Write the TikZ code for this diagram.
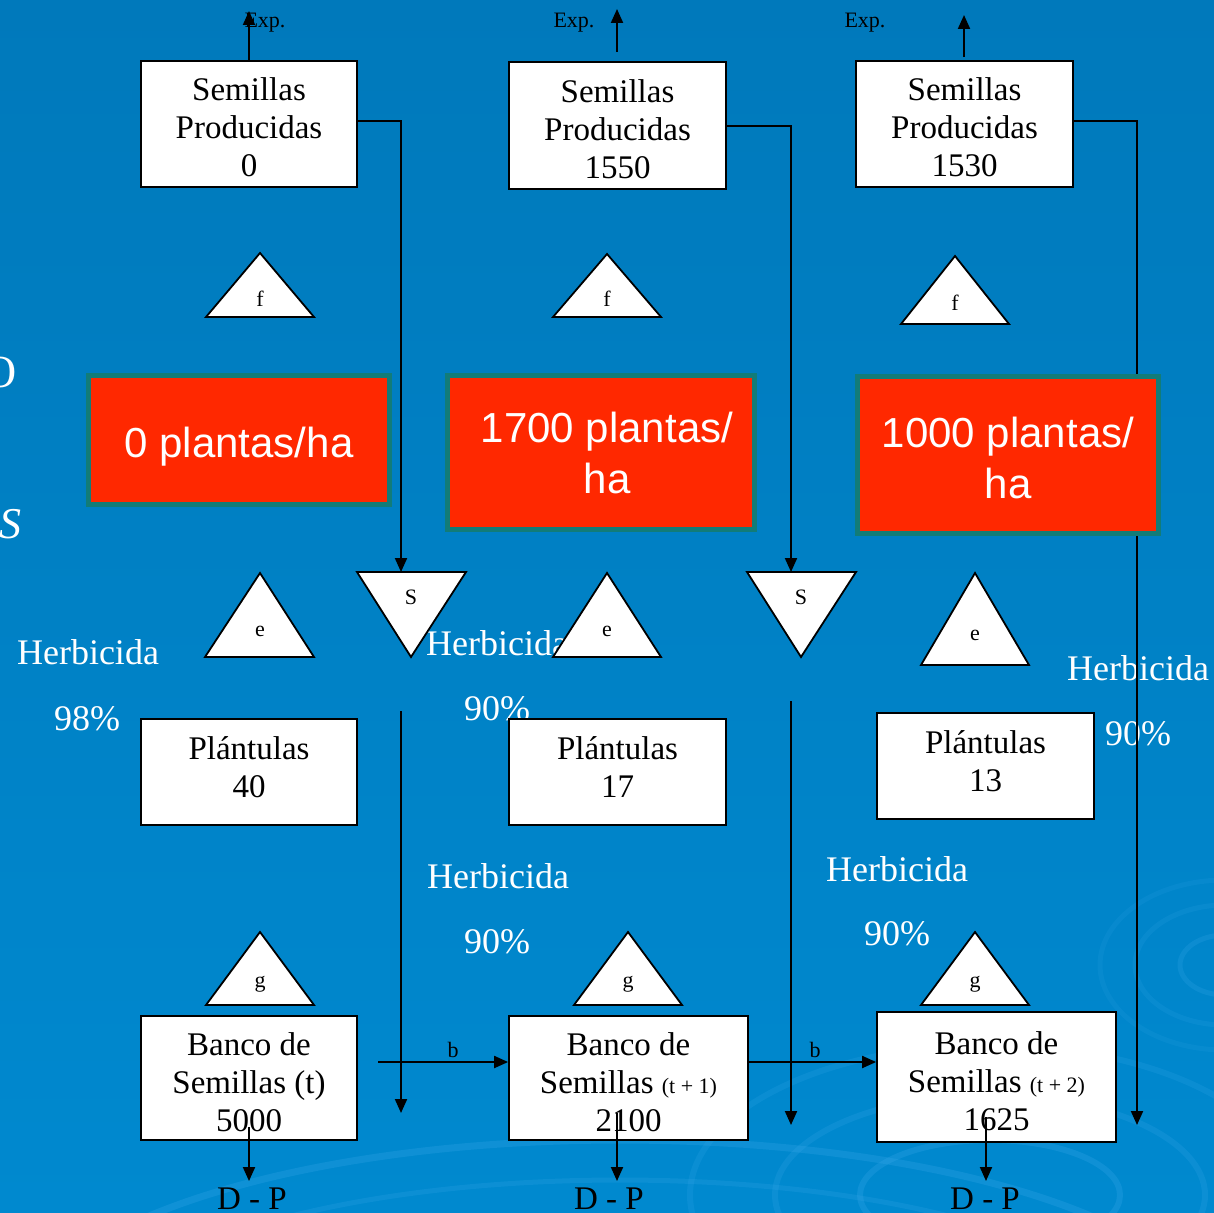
\documentclass[tikz,border=0pt]{standalone}
\usepackage{fontspec}
\setmainfont{Liberation Serif}
\newfontfamily\arialfont{Liberation Sans}
\usetikzlibrary{arrows.meta,positioning}

\definecolor{fondoA}{RGB}{0,121,187}
\definecolor{fondoB}{RGB}{0,137,207}
\definecolor{onda}{RGB}{60,170,235}
\definecolor{rojo}{RGB}{255,40,0}
\definecolor{verdeazul}{RGB}{18,124,120}

\tikzset{
  caja/.style={draw=black, fill=white, line width=1.8pt, inner sep=0pt, align=center,
    font=\rmfamily\fontsize{33}{38}\selectfont},
  tri/.style={draw=black, fill=white, line width=1.8pt, line join=miter},
  letra/.style={inner sep=0pt, font=\rmfamily\fontsize{22}{24}\selectfont},
  blanco/.style={text=white, anchor=base, inner sep=0pt, font=\rmfamily\fontsize{36}{40}\selectfont},
  expo/.style={anchor=base, inner sep=0pt, font=\rmfamily\fontsize{22}{24}\selectfont},
  dp/.style={anchor=base, inner sep=0pt, font=\rmfamily\fontsize{33}{38}\selectfont},
  plantas/.style={draw=verdeazul, fill=rojo, line width=5pt, inner sep=0pt, align=center,
    text=white, font=\arialfont\fontsize{42}{51}\selectfont},
  flecha/.style={line width=2pt, -{Triangle[length=14pt,width=12pt]}},
}
\newcommand{\chico}{\fontsize{22}{24}\selectfont}
\newcommand{\alto}[1]{\rule{0pt}{#1}}
\newcommand{\hondo}[1]{\rule[-#1]{0pt}{#1}}

\begin{document}
\begin{tikzpicture}[x=1pt, y=-1pt]
  \useasboundingbox (0,0) rectangle (1214,1212);
  \shade[top color=fondoA, bottom color=fondoB] (0,0) rectangle (1214,1212);
  % ondas del fondo
  \begin{scope}
    \clip (0,0) rectangle (1214,1212);
    \draw[onda, opacity=0.25, line width=7pt] (620,1340) ellipse (600 and 200);
    \draw[onda, opacity=0.20, line width=5pt] (620,1340) ellipse (520 and 160);
    \draw[onda, opacity=0.25, line width=6pt] (990,1195) ellipse (130 and 55);
    \draw[onda, opacity=0.20, line width=6pt] (990,1195) ellipse (215 and 100);
    \draw[onda, opacity=0.18, line width=6pt] (990,1195) ellipse (300 and 150);
    \draw[onda, opacity=0.20, line width=5pt] (1225,965) ellipse (45 and 30);
    \draw[onda, opacity=0.15, line width=5pt] (1225,965) ellipse (90 and 60);
    \draw[onda, opacity=0.12, line width=5pt] (1225,965) ellipse (125 and 85);
  \end{scope}

  % restos del titulo, cortados por el borde
  \node[blanco, font=\rmfamily\fontsize{46}{48}\selectfont] (tit1) at (0,387) {O};
  \node[blanco, font=\rmfamily\itshape\fontsize{44}{48}\selectfont] (tit2) at (10,538) {S};

  % textos del herbicida
  \node[blanco] (h1) at (88,664) {Herbicida};
  \node[blanco] (p1) at (87,730) {98\%};
  \node[blanco] (h2) at (497,655) {Herbicida};
  \node[blanco] (p2) at (497,720) {90\%};
  \node[blanco] (h3) at (498,888) {Herbicida};
  \node[blanco] (p3) at (497,953) {90\%};
  \node[blanco] (h4) at (897,881) {Herbicida};
  \node[blanco] (p4) at (897,945) {90\%};
  \node[blanco] (h5) at (1138,680) {Herbicida};
  \node[blanco] (p5) at (1138,745) {90\%};

  % semillas producidas
  \node[caja, minimum width=216pt, minimum height=126pt] (sp1) at (249,124) {\alto{30pt}Semillas\\Producidas\\0};
  \node[caja, minimum width=217pt, minimum height=127pt] (sp2) at (617.5,125.5) {\alto{30pt}Semillas\\Producidas\\1550};
  \node[caja, minimum width=217pt, minimum height=126pt] (sp3) at (964.5,124) {\alto{30pt}Semillas\\Producidas\\1530};

  % exportacion
  \coordinate (exp1) at (249,11);
  \coordinate (exp2) at (617,9);
  \coordinate (exp3) at (964,15);
  \draw[flecha] (sp1.north) -- (exp1);
  \draw[flecha] ([yshift=9pt]sp2.north -| exp2) -- (exp2);
  \draw[flecha] ([yshift=3pt]sp3.north -| exp3) -- (exp3);
  \node[expo] (le1) at (265,28) {Exp.};
  \node[expo] (le2) at (574,28) {Exp.};
  \node[expo] (le3) at (865,28) {Exp.};

  % lineas de semillas hacia abajo
  \coordinate (s1top) at (401,572);
  \coordinate (s2top) at (791,572);
  \coordinate (fin3) at (1137,1125);
  \draw[flecha] ([yshift=3pt]sp1.east) -| (s1top);
  \draw[flecha] (sp2.east) -| (s2top);
  \draw[flecha] ([yshift=3pt]sp3.east) -| (fin3);
  \coordinate (s1a) at (401,711);
  \coordinate (s1b) at (401,1113);
  \coordinate (s2a) at (791,701);
  \coordinate (s2b) at (791,1125);
  \draw[flecha] (s1a) -- (s1b);
  \draw[flecha] (s2a) -- (s2b);

  % triangulos f
  \draw[tri] (206,317) -- (314,317) -- (260,253) -- cycle;
  \draw[tri] (553,317) -- (661,317) -- (607,254) -- cycle;
  \draw[tri] (901,324) -- (1009,324) -- (955,256) -- cycle;
  \node[letra] (f1) at (260,299) {f};
  \node[letra] (f2) at (607,299) {f};
  \node[letra] (f3) at (955,303) {f};

  % triangulos s
  \draw[tri] (357,572) -- (466,572) -- (411,657) -- cycle;
  \draw[tri] (747,572) -- (856,572) -- (801,657) -- cycle;
  \node[letra] (sv1) at (411,597) {S};
  \node[letra] (sv2) at (801,597) {S};

  % triangulos e
  \draw[tri] (205,657) -- (314,657) -- (260,573) -- cycle;
  \draw[tri] (553,657) -- (661,657) -- (607,573) -- cycle;
  \draw[tri] (921,665) -- (1029,665) -- (975,573) -- cycle;
  \node[letra] (e1) at (260,631) {e};
  \node[letra] (e2) at (607,631) {e};
  \node[letra] (e3) at (975,635) {e};

  % plantulas
  \node[caja, minimum width=216pt, minimum height=106pt] (pl1) at (249,772) {Plántulas\\40\hondo{9pt}};
  \node[caja, minimum width=217pt, minimum height=106pt] (pl2) at (617.5,772) {Plántulas\\17\hondo{9pt}};
  \node[caja, minimum width=217pt, minimum height=106pt] (pl3) at (985.5,766) {Plántulas\\13\hondo{9pt}};

  % triangulos g
  \draw[tri] (206,1005) -- (314,1005) -- (260,932) -- cycle;
  \draw[tri] (574,1005) -- (682,1005) -- (628,932) -- cycle;
  \draw[tri] (921,1005) -- (1029,1005) -- (975,932) -- cycle;
  \node[letra] (g1) at (260,984) {g};
  \node[letra] (g2) at (628,984) {g};
  \node[letra] (g3) at (975,984) {g};

  % banco de semillas
  \node[caja, minimum width=216pt, minimum height=124pt] (bs1) at (249,1078) {\alto{31pt}Banco de\\Semillas (t)\\5000};
  \node[caja, minimum width=239pt, minimum height=124pt] (bs2) at (628.5,1078) {\alto{31pt}Banco de\\Semillas {\chico(t + 1)}\\2100};
  \node[caja, minimum width=239pt, minimum height=130pt] (bs3) at (996.5,1077) {\alto{31pt}Banco de\\Semillas {\chico(t + 2)}\\1625};

  % paso b
  \coordinate (b1) at (378,1062);
  \draw[flecha] (b1) -- (b1 -| bs2.west);
  \draw[flecha] (bs2.east |- b1) -- (bs3.west |- b1);
  \node[letra, anchor=base] (lb1) at (453,1057) {b};
  \node[letra, anchor=base] (lb2) at (815,1057) {b};

  % perdidas D - P
  \node[dp] (dp1) at (252,1209) {D - P};
  \node[dp] (dp2) at (609,1209) {D - P};
  \node[dp] (dp3) at (985,1209) {D - P};
  \coordinate (d1) at (249,1127);
  \coordinate (d2) at (617,1113);
  \coordinate (d3) at (986,1117);
  \draw[flecha] (d1) -- (d1 |- 0,1181);
  \draw[flecha] (d2) -- (d2 |- 0,1181);
  \draw[flecha] (d3) -- (d3 |- 0,1181);

  % densidad de plantas
  \node[plantas, minimum width=301pt, minimum height=129pt, text height=43pt, text depth=9pt] (rb1) at (239,440) {0 plantas/ha};
  \node[plantas, minimum width=307pt, minimum height=154pt] (rb2) at (601,452.5) {\hspace*{12pt}1700 plantas/\\\hspace*{12pt}ha};
  \node[plantas, minimum width=301pt, minimum height=157pt] (rb3) at (1008,455) {\alto{37pt}1000 plantas/\\ha};
\end{tikzpicture}
\end{document}
